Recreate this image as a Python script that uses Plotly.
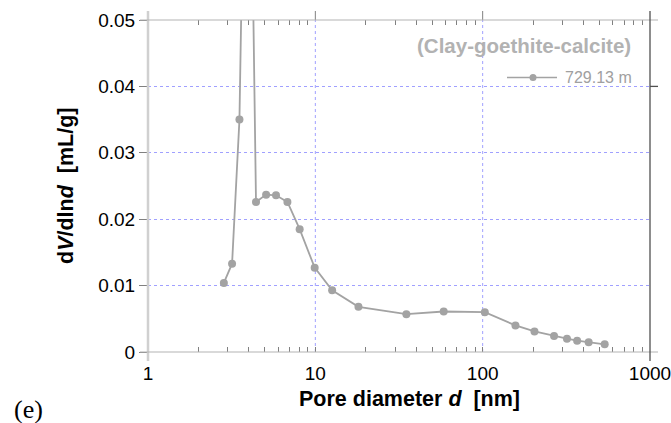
import plotly.graph_objects as go

# Data
pore_d = [2.84, 3.18, 3.52, 3.95, 4.42, 5.08, 5.82, 6.81, 8.06, 9.91, 12.6, 18.1,
          35.0, 58.5, 103, 157, 204, 267, 319, 367, 430, 536]
dv_dlnd = [0.0104, 0.0133, 0.0350, 0.110, 0.0226, 0.0237, 0.0236, 0.0226, 0.0185,
           0.0127, 0.0093, 0.0068, 0.0057, 0.0061, 0.0060, 0.0040, 0.0031, 0.0024,
           0.0020, 0.0017, 0.00145, 0.00115]
series_name = "729.13 m"
x_tickvals = [1, 10, 100, 1000]
x_ticktext = ["1", "10", "100", "1000"]
x_minor = [d * m for m in (1, 10, 100) for d in range(2, 10)]
y_tickvals = [0, 0.01, 0.02, 0.03, 0.04, 0.05]
y_ticktext = ["0", "0.01", "0.02", "0.03", "0.04", "0.05"]

W, H = 671, 423
L, R, T, B = 148, 21, 20, 71
pw, ph = W - L - R, H - T - B

grey = "#a3a3a3"
gridc = "#a0a0ff"
tickc = "#808080"
font = "Liberation Sans, Arial, sans-serif"

all_ticks = sorted(x_tickvals + x_minor)
all_text = [x_ticktext[x_tickvals.index(v)] if v in x_tickvals else "" for v in all_ticks]

fig = go.Figure()
fig.add_trace(go.Scatter(
    x=pore_d, y=dv_dlnd, mode="lines+markers", name=series_name,
    line=dict(color=grey, width=1.8),
    marker=dict(color=grey, size=8),
    showlegend=False, cliponaxis=True,
))
# invisible trace for top axis
fig.add_trace(go.Scatter(x=[1, 1000], y=[0, 0], xaxis="x2", mode="markers",
                         marker=dict(opacity=0), showlegend=False, hoverinfo="skip"))

fig.update_layout(
    width=W, height=H,
    margin=dict(l=L, r=R, t=T, b=B, autoexpand=False),
    paper_bgcolor="white", plot_bgcolor="white",
    font=dict(family=font, size=19, color="black"),
    xaxis=dict(
        type="log", range=[0, 3], tickmode="array", tickvals=all_ticks, ticktext=all_text,
        ticks="inside", ticklen=5, tickcolor=tickc, ticklabelstandoff=8,
        ticklabeloverflow="allow", automargin=False,
        showgrid=False, showline=False, zeroline=False, tickfont=dict(size=19),
    ),
    xaxis2=dict(
        type="log", range=[0, 3], overlaying="x", side="top", anchor="y",
        tickmode="array", tickvals=x_minor, ticks="inside", ticklen=5, tickcolor=tickc,
        showticklabels=False, showgrid=False, showline=False, zeroline=False,
        automargin=False,
    ),
    yaxis=dict(
        range=[0, 0.05], tickmode="array", tickvals=y_tickvals, ticktext=y_ticktext,
        ticks="outside", ticklen=8, tickcolor=tickc, automargin=False,
        showgrid=True, gridcolor=gridc, griddash="dot", gridwidth=1,
        showline=False, zeroline=False, tickfont=dict(size=19),
    ),
)

ex = 8 / pw
ey = 9 / ph
shapes = []
# vertical dotted gridlines at inner decades
for v in x_tickvals[1:-1]:
    shapes.append(dict(type="line", xref="x", yref="paper", x0=v, x1=v, y0=0, y1=1,
                       layer="between", line=dict(color=gridc, width=1, dash="dot")))
    # outward major ticks on top axis
    shapes.append(dict(type="line", xref="x", yref="paper", x0=v, x1=v, y0=1, y1=1 + ey,
                       line=dict(color=tickc, width=1)))
shapes += [
    # frame
    dict(type="line", xref="paper", yref="paper", x0=0, x1=0, y0=-ey, y1=1 + ey,
         line=dict(color="#d0d0d0", width=2.5)),
    dict(type="line", xref="paper", yref="paper", x0=-ex, x1=1 + ex, y0=0, y1=0,
         line=dict(color="#b4b4b4", width=1.2)),
    dict(type="line", xref="paper", yref="paper", x0=-ex, x1=1 + ex, y0=1, y1=1,
         line=dict(color="#b4b4b4", width=1.2)),
    dict(type="line", xref="paper", yref="paper", x0=1, x1=1, y0=-ey, y1=1 + ey,
         line=dict(color="#505050", width=1.3)),
    dict(type="line", xref="paper", yref="y", x0=1, x1=1 + ex, y0=0.04, y1=0.04,
         line=dict(color="#505050", width=1.3)),
    # legend box (white, hides gridline)
    dict(type="rect", xref="paper", yref="paper", layer="between",
         x0=(496 - L) / pw, x1=(632 - L) / pw, y0=1 - (95 - T) / ph, y1=1 - (65 - T) / ph,
         fillcolor="white", line=dict(width=0)),
    dict(type="line", xref="paper", yref="paper",
         x0=(507 - L) / pw, x1=(557 - L) / pw, y0=1 - (77.5 - T) / ph, y1=1 - (77.5 - T) / ph,
         line=dict(color=grey, width=1.5)),
    dict(type="circle", xref="paper", yref="paper",
         x0=(529.5 - L) / pw, x1=(536.5 - L) / pw, y0=1 - (81 - T) / ph, y1=1 - (74 - T) / ph,
         fillcolor=grey, line=dict(width=0)),
]
fig.update_layout(shapes=shapes)

annotations = [
    dict(text="(Clay-goethite-calcite)", xref="paper", yref="paper",
         x=(524 - L) / pw, y=1 - (46 - T) / ph, xanchor="center", yanchor="middle",
         showarrow=False, font=dict(family=font, size=20.5, color="#b2b2b2", weight="bold")),
    dict(text=series_name, xref="paper", yref="paper",
         x=(563 - L) / pw, y=1 - (77 - T) / ph, xanchor="left", yanchor="middle",
         showarrow=False, font=dict(family=font, size=16, color="#a0a0a0")),
    dict(text="Pore diameter <i>d</i>&nbsp;&nbsp;[nm]", xref="paper", yref="paper",
         x=(409 - L) / pw, y=1 - (399 - T) / ph, xanchor="center", yanchor="middle",
         showarrow=False, font=dict(family=font, size=21.5, color="black", weight="bold")),
    dict(text="d<i>V</i>/dln<i>d</i>&nbsp;&nbsp;[mL/g]", xref="paper", yref="paper",
         x=(66 - L) / pw, y=1 - (186 - T) / ph, xanchor="center", yanchor="middle",
         textangle=-90, showarrow=False,
         font=dict(family=font, size=21.5, color="black", weight="bold")),
    dict(text="(e)", xref="paper", yref="paper",
         x=(12 - L) / pw, y=1 - (409 - T) / ph, xanchor="left", yanchor="middle",
         showarrow=False, font=dict(family="Liberation Serif, Times New Roman, serif",
                                    size=26, color="black")),
]
fig.update_layout(annotations=annotations)

fig.write_html("out.html")
